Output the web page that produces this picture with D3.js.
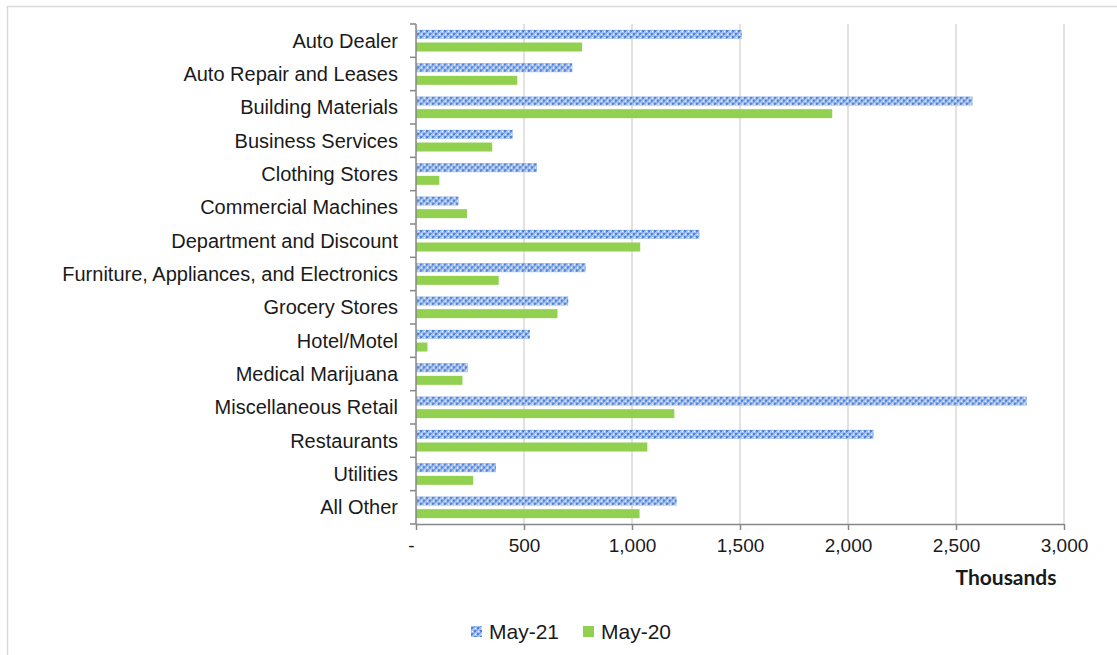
<!DOCTYPE html>
<html>
<head>
<meta charset="utf-8">
<script src="https://cdn.jsdelivr.net/npm/d3@7"></script>
<style>
  html, body { margin: 0; padding: 0; background: #fff; }
  svg { display: block; }
</style>
</head>
<body>
<svg id="chart" width="1117" height="655"></svg>
<script>
const categories = [
  "Auto Dealer", "Auto Repair and Leases", "Building Materials", "Business Services",
  "Clothing Stores", "Commercial Machines", "Department and Discount",
  "Furniture, Appliances, and Electronics", "Grocery Stores", "Hotel/Motel",
  "Medical Marijuana", "Miscellaneous Retail", "Restaurants", "Utilities", "All Other"
];
const seriesNames = ["May-21", "May-20"];
const may21 = [1508, 724, 2576, 448, 560, 197, 1312, 785, 705, 527, 240, 2827, 2118, 370, 1207];
const may20 = [769, 469, 1927, 353, 108, 236, 1038, 383, 655, 53, 215, 1196, 1071, 265, 1035];
const xTicks = [0, 500, 1000, 1500, 2000, 2500, 3000];
const axisTitle = "Thousands";

const svg = d3.select("#chart");
const pLeft = 416, pRight = 1064, pTop = 24, pBottom = 524;

// outer chart border (only top and left visible)
svg.append("rect").attr("x", 7.5).attr("y", 6.5).attr("width", 1130).attr("height", 670)
  .attr("fill", "none").attr("stroke", "#d9d9d9").attr("stroke-width", 1.5);

// pattern for May-21
const defs = svg.append("defs");
const pat = defs.append("pattern").attr("id", "pat21").attr("patternUnits", "userSpaceOnUse")
  .attr("width", 6).attr("height", 6);
pat.append("rect").attr("width", 6).attr("height", 6).attr("fill", "#a6c1ed");
const cells = [
  [0, 0, 2, 2, "#4f84d6"], [3, 3, 2, 2, "#4f84d6"],
  [2, 0, 1, 1, "#6f9be0"], [0, 2, 1, 1, "#6f9be0"], [5, 3, 1, 1, "#6f9be0"], [3, 5, 1, 1, "#6f9be0"],
  [4, 1, 1, 1, "#ffffff"], [1, 4, 1, 1, "#ffffff"]
];
cells.forEach(c => pat.append("rect").attr("x", c[0]).attr("y", c[1]).attr("width", c[2])
  .attr("height", c[3]).attr("fill", c[4]));

const x = d3.scaleLinear().domain([0, 3000]).range([pLeft, pRight]);
const y = d3.scaleBand().domain(categories).range([pTop, pBottom]).paddingInner(0).paddingOuter(0);
const ySub = d3.scaleBand().domain(seriesNames).range([0, y.step()]).paddingInner(0.29).paddingOuter(0.46);
const colors = { "May-21": "url(#pat21)", "May-20": "#92d050" };

// gridlines
svg.append("g").selectAll("line").data(xTicks.filter(d => d > 0)).join("line")
  .attr("x1", d => x(d)).attr("x2", d => x(d)).attr("y1", pTop).attr("y2", pBottom)
  .attr("stroke", "#d9d9d9").attr("stroke-width", 1.5);

// bars
const data = categories.map((c, i) => ({ cat: c, vals: [
  { s: "May-21", v: may21[i] }, { s: "May-20", v: may20[i] } ] }));
const groups = svg.append("g").selectAll("g").data(data).join("g")
  .attr("transform", d => `translate(0,${y(d.cat)})`);
groups.selectAll("rect").data(d => d.vals).join("rect")
  .attr("x", x(0)).attr("y", d => ySub(d.s)).attr("height", ySub.bandwidth())
  .attr("width", d => x(d.v) - x(0)).attr("fill", d => colors[d.s]);

// y axis
const yAxis = svg.append("g").attr("transform", `translate(${pLeft},0)`)
  .call(d3.axisLeft(y).tickSize(0).tickPadding(18));
yAxis.select(".domain").remove();
yAxis.selectAll("text").attr("font-family", "'Liberation Sans', Arial, sans-serif")
  .attr("font-size", 20).attr("fill", "#1a1a1a").attr("dy", "0.35em");
const bounds = categories.map(c => y(c)).concat([pBottom]);
svg.append("g").selectAll("line").data(bounds).join("line")
  .attr("x1", pLeft - 6).attr("x2", pLeft).attr("y1", d => d).attr("y2", d => d)
  .attr("stroke", "#868686").attr("stroke-width", 1.5);
svg.append("line").attr("x1", pLeft).attr("x2", pLeft).attr("y1", pTop).attr("y2", pBottom)
  .attr("stroke", "#868686").attr("stroke-width", 1.5);

// x axis
const xAxis = svg.append("g").attr("transform", `translate(0,${pBottom})`)
  .call(d3.axisBottom(x).tickValues(xTicks).tickSize(6).tickPadding(9)
    .tickFormat(d => d === 0 ? "-" : d3.format(",")(d)));
xAxis.select(".domain").attr("stroke", "#868686").attr("stroke-width", 1.5)
  .attr("d", `M${pLeft},0.5H${pRight}`);
xAxis.selectAll(".tick line").attr("stroke", "#868686").attr("stroke-width", 1.5);
xAxis.selectAll("text").attr("font-family", "'Liberation Sans', Arial, sans-serif")
  .attr("font-size", 19).attr("fill", "#1a1a1a");
xAxis.selectAll(".tick").filter(d => d === 0).select("text").attr("dx", -5);

svg.append("text").attr("x", 1006).attr("y", 585).attr("text-anchor", "middle")
  .attr("font-family", "Lato, 'Open Sans', sans-serif").attr("font-weight", "bold")
  .attr("font-size", 21).attr("fill", "#1a1a1a").text(axisTitle);

// legend
const legend = svg.append("g");
const legX = [471, 583];
seriesNames.forEach((s, i) => {
  legend.append("rect").attr("x", legX[i]).attr("y", 626).attr("width", 11).attr("height", 11)
    .attr("fill", colors[s]);
  legend.append("text").attr("x", legX[i] + 18).attr("y", 639)
    .attr("font-family", "'Liberation Sans', Arial, sans-serif").attr("font-size", 21)
    .attr("fill", "#1a1a1a").text(s);
});
</script>
</body>
</html>
